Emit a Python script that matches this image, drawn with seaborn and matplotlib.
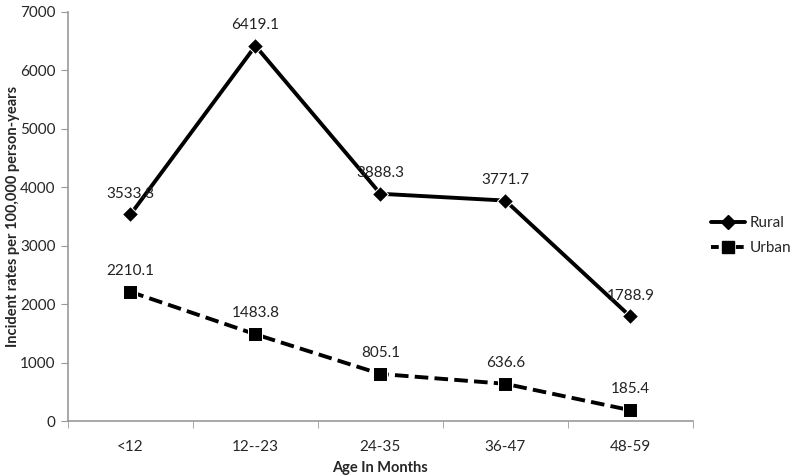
import numpy as np
import pandas as pd
import matplotlib
matplotlib.use('Agg')
import matplotlib.pyplot as plt
from matplotlib.ticker import FixedLocator
from matplotlib.lines import Line2D
import seaborn as sns

# Data
ages = ['<12', '12--23', '24-35', '36-47', '48-59']
rural = [3533.8, 6419.1, 3888.3, 3771.7, 1788.9]
urban = [2210.1, 1483.8, 805.1, 636.6, 185.4]
y_ticks = [0, 1000, 2000, 3000, 4000, 5000, 6000, 7000]

sns.set_style('white')
plt.rcParams['font.family'] = ['Lato', 'DejaVu Sans']

df = pd.DataFrame({
    'pos': list(range(len(ages))) * 2,
    'rate': rural + urban,
    'area': ['Rural'] * len(ages) + ['Urban'] * len(ages),
})

fig = plt.figure(figsize=(8, 4.76), dpi=100)
ax = fig.add_axes([0.085, 0.1155, 0.781, 0.8595])

sns.lineplot(
    data=df, x='pos', y='rate', hue='area', style='area',
    palette={'Rural': 'black', 'Urban': 'black'},
    dashes={'Rural': '', 'Urban': (3.5, 1.6)},
    markers={'Rural': 'D', 'Urban': 's'},
    linewidth=2.8, ax=ax, legend=False,
)
# marker sizes differ per series
for line, ms in zip(ax.lines, [8, 9.5]):
    line.set_markersize(ms)

# value labels above each point
for vals in (rural, urban):
    for i, v in enumerate(vals):
        ax.annotate(f'{v:.1f}', (i, v), xytext=(0, 10), textcoords='offset points',
                    ha='center', va='bottom', fontsize=11, color='#222222')

ax.set_xlim(-0.5, len(ages) - 0.5)
ax.set_ylim(0, 7000)
ax.set_yticks(y_ticks)
ax.set_xticks(range(len(ages)))
ax.set_xticklabels(ages)
ax.xaxis.set_minor_locator(FixedLocator(np.arange(-0.5, len(ages), 1.0)))
ax.tick_params(axis='x', which='major', length=0, pad=14, labelsize=11)
ax.tick_params(axis='x', which='minor', length=5, color='#999999', direction='out', bottom=True)
ax.tick_params(axis='y', length=5, color='#999999', direction='out', left=True, labelsize=11, pad=4)

for side in ['top', 'right']:
    ax.spines[side].set_visible(False)
for side in ['left', 'bottom']:
    ax.spines[side].set_color('#999999')
    ax.spines[side].set_linewidth(1.2)

ax.set_xlabel('Age In Months', fontsize=10.5, fontweight='bold', labelpad=5)
ax.set_ylabel('Incident rates per 100,000 person-years', fontsize=10.5, fontweight='bold', labelpad=0)

handles = [
    Line2D([], [], color='black', lw=2.8, marker='D', markersize=7),
    Line2D([], [], color='black', lw=2.8, ls=(0, (2, 1.2)), marker='s', markersize=8),
]
fig.legend(handles, ['Rural', 'Urban'], loc='center left', bbox_to_anchor=(0.872, 0.505),
           frameon=False, fontsize=11, handlelength=2.2, labelspacing=0.7, handletextpad=0.3)

plt.savefig('out.png', dpi=100)
plt.close()
